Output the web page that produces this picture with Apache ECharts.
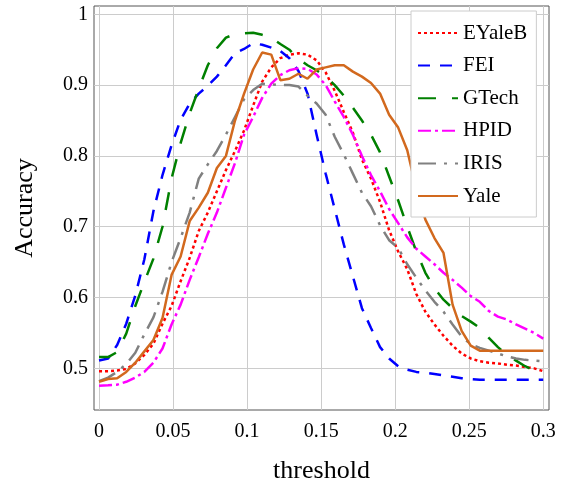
<!DOCTYPE html>
<html>
<head>
<meta charset="utf-8">
<script src="https://cdn.jsdelivr.net/npm/echarts@6/dist/echarts.min.js"></script>
<style>
  html, body { margin: 0; padding: 0; background: #fff; }
  #chart { width: 567px; height: 485px; }
</style>
</head>
<body>
<div id="chart"></div>
<script>
// threshold grid (50 steps from 0 to 0.3)
const thresholds = [0, 0.00612, 0.01224, 0.01837, 0.02449, 0.03061, 0.03673, 0.04286, 0.04898, 0.0551,
  0.06122, 0.06735, 0.07347, 0.07959, 0.08571, 0.09184, 0.09796, 0.10408, 0.1102, 0.11633,
  0.12245, 0.12857, 0.13469, 0.14082, 0.14694, 0.15306, 0.15918, 0.16531, 0.17143, 0.17755,
  0.18367, 0.1898, 0.19592, 0.20204, 0.20816, 0.21429, 0.22041, 0.22653, 0.23265, 0.23878,
  0.2449, 0.25102, 0.25714, 0.26327, 0.26939, 0.27551, 0.28163, 0.28776, 0.29388, 0.3];

const eyaleb = [0.496, 0.496, 0.497, 0.499, 0.507, 0.519, 0.535, 0.563, 0.588, 0.623,
  0.656, 0.694, 0.720, 0.750, 0.780, 0.807, 0.836, 0.871, 0.905, 0.925,
  0.938, 0.943, 0.945, 0.943, 0.935, 0.918, 0.892, 0.862, 0.833, 0.795,
  0.768, 0.735, 0.695, 0.665, 0.640, 0.605, 0.580, 0.562, 0.546, 0.532,
  0.521, 0.514, 0.510, 0.508, 0.507, 0.505, 0.504, 0.502, 0.500, 0.496];

const fei = [0.511, 0.514, 0.533, 0.563, 0.603, 0.654, 0.722, 0.773, 0.815, 0.851,
  0.874, 0.888, 0.899, 0.912, 0.928, 0.945, 0.951, 0.959, 0.957, 0.953,
  0.948, 0.938, 0.920, 0.888, 0.830, 0.775, 0.725, 0.675, 0.630, 0.585,
  0.557, 0.530, 0.514, 0.503, 0.498, 0.495, 0.494, 0.492, 0.490, 0.488,
  0.486, 0.485, 0.484, 0.484, 0.484, 0.484, 0.484, 0.484, 0.484, 0.484];

const gtech = [0.516, 0.516, 0.523, 0.549, 0.588, 0.622, 0.655, 0.700, 0.768, 0.818,
  0.860, 0.895, 0.928, 0.952, 0.967, 0.972, 0.973, 0.974, 0.971, 0.967,
  0.958, 0.950, 0.937, 0.928, 0.921, 0.912, 0.900, 0.885, 0.868, 0.850,
  0.830, 0.805, 0.771, 0.737, 0.700, 0.665, 0.635, 0.613, 0.597, 0.585,
  0.574, 0.566, 0.557, 0.543, 0.530, 0.519, 0.511, 0.503, 0.497, 0.493];

const hpid = [0.4755, 0.476, 0.477, 0.481, 0.487, 0.495, 0.508, 0.528, 0.562, 0.590,
  0.625, 0.657, 0.690, 0.720, 0.755, 0.790, 0.830, 0.855, 0.882, 0.902,
  0.914, 0.921, 0.924, 0.923, 0.915, 0.900, 0.877, 0.855, 0.830, 0.800,
  0.773, 0.750, 0.725, 0.705, 0.685, 0.669, 0.658, 0.647, 0.635, 0.625,
  0.614, 0.602, 0.594, 0.581, 0.573, 0.569, 0.562, 0.556, 0.550, 0.542];

const iris = [0.482, 0.487, 0.495, 0.506, 0.522, 0.548, 0.572, 0.608, 0.650, 0.684,
  0.720, 0.768, 0.788, 0.807, 0.830, 0.855, 0.880, 0.893, 0.902, 0.901,
  0.900, 0.900, 0.898, 0.885, 0.874, 0.858, 0.827, 0.802, 0.775, 0.748,
  0.729, 0.702, 0.681, 0.670, 0.647, 0.628, 0.610, 0.594, 0.580, 0.562,
  0.545, 0.534, 0.529, 0.525, 0.521, 0.517, 0.514, 0.512, 0.511, 0.510];

const yale = [0.481, 0.485, 0.486, 0.495, 0.508, 0.524, 0.540, 0.571, 0.632, 0.658,
  0.708, 0.727, 0.748, 0.783, 0.800, 0.850, 0.888, 0.922, 0.946, 0.943,
  0.907, 0.909, 0.916, 0.909, 0.922, 0.925, 0.928, 0.928, 0.919, 0.912,
  0.903, 0.888, 0.858, 0.840, 0.808, 0.753, 0.710, 0.684, 0.663, 0.590,
  0.553, 0.532, 0.525, 0.525, 0.525, 0.525, 0.525, 0.525, 0.525, 0.525];

const xTicks = [0, 0.05, 0.1, 0.15, 0.2, 0.25, 0.3];
const xTickLabels = ['0', '0.05', '0.1', '0.15', '0.2', '0.25', '0.3'];
const yTicks = [0.5, 0.6, 0.7, 0.8, 0.9, 1];
const yTickLabels = ['0.5', '0.6', '0.7', '0.8', '0.9', '1'];

const FONT = 'Liberation Serif';

function pairs(vals) {
  return thresholds.map((t, i) => [t, vals[i]]);
}

function tickLabel(ticks, labels) {
  return function (v) {
    const i = ticks.findIndex(t => Math.abs(t - v) < 1e-9);
    return i < 0 ? '' : labels[i];
  };
}

function line(name, vals, color, dash) {
  return {
    name: name,
    type: 'line',
    data: pairs(vals),
    symbol: 'none',
    smooth: false,
    lineStyle: { color: color, width: 2.5, type: dash, cap: 'butt' },
    itemStyle: { color: color },
    emphasis: { disabled: true },
  };
}

const chart = echarts.init(document.getElementById('chart'));

const option = {
  animation: false,
  grid: {
    left: 94, right: 18, top: 6, bottom: 75,
    outerBoundsMode: 'none',
    show: true, borderColor: '#555', borderWidth: 1,
  },
  xAxis: {
    type: 'value',
    min: -0.0034,
    max: 0.3039,
    name: 'threshold',
    nameLocation: 'middle',
    nameGap: 48,
    nameTextStyle: { fontFamily: FONT, fontSize: 26, color: '#000' },
    axisLine: { show: false },
    axisTick: { show: false, customValues: xTicks },
    axisLabel: {
      customValues: xTicks,
      formatter: tickLabel(xTicks, xTickLabels),
      fontFamily: FONT, fontSize: 20, color: '#000', margin: 12,
    },
    splitLine: { show: true, lineStyle: { color: '#cccccc', width: 1 } },
  },
  yAxis: {
    type: 'value',
    min: 0.4412,
    max: 1.0117,
    name: 'Accuracy',
    nameLocation: 'middle',
    nameGap: 56,
    nameRotate: 90,
    nameTextStyle: { fontFamily: FONT, fontSize: 26, color: '#000' },
    axisLine: { show: false },
    axisTick: { show: false, customValues: yTicks },
    axisLabel: {
      customValues: yTicks,
      formatter: tickLabel(yTicks, yTickLabels),
      fontFamily: FONT, fontSize: 20, color: '#000', margin: 6,
    },
    splitLine: { show: true, lineStyle: { color: '#cccccc', width: 1 } },
  },
  legend: {
    orient: 'vertical',
    left: 411,
    top: 11,
    padding: [11, 9, 10, 6],
    itemGap: 10.6,
    itemWidth: 40,
    itemHeight: 14,
    itemStyle: { opacity: 0 },
    backgroundColor: '#fff',
    borderColor: '#cccccc',
    borderWidth: 1,
    textStyle: { fontFamily: FONT, fontSize: 21, color: '#000', lineHeight: 22 },
    data: ['EYaleB', 'FEI', 'GTech', 'HPID', 'IRIS', 'Yale'],
  },
  series: [
    line('EYaleB', eyaleb, '#ff0000', [3, 3]),
    line('FEI', fei, '#0000ff', [12, 10]),
    line('GTech', gtech, '#008000', [18, 16]),
    line('HPID', hpid, '#ff00ff', [13, 4, 3, 4]),
    line('IRIS', iris, '#808080', [18, 8, 3, 8]),
    line('Yale', yale, '#d2691e', 'solid'),
  ],
};

chart.setOption(option);
</script>
</body>
</html>
